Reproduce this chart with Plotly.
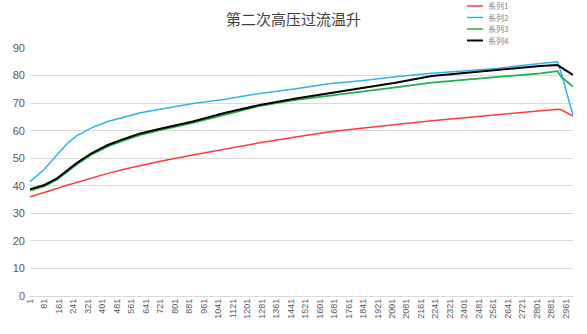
import plotly.graph_objects as go

# sample index (category number) for the read-off points
n_pts = [1, 80, 150, 210, 260, 340, 430, 520, 610, 720, 900, 1080, 1270,
         1470, 1650, 1830, 2020, 2220, 2580, 2820, 2915, 2935, 3000]

s1 = [36.0, 37.5, 39.0, 40.3, 41.3, 42.8, 44.5, 46.0, 47.4, 48.9, 51.2, 53.4, 55.6,
      57.7, 59.5, 60.9, 62.3, 63.6, 65.8, 67.2, 67.8, 67.6, 65.3]
s2 = [41.5, 46.0, 51.3, 55.6, 58.2, 61.0, 63.3, 64.8, 66.5, 67.8, 69.9, 71.4, 73.5,
      75.2, 77.0, 78.1, 79.6, 80.8, 82.6, 84.4, 85.0, 81.0, 65.7]
s3 = [38.2, 39.9, 42.3, 45.2, 47.8, 51.3, 54.3, 56.5, 58.5, 60.2, 62.8, 65.8, 69.0,
      71.2, 72.6, 74.1, 75.7, 77.4, 79.3, 80.8, 81.6, 79.6, 76.0]
s4 = [38.7, 40.3, 42.7, 45.7, 48.3, 51.8, 54.8, 57.0, 59.0, 60.7, 63.3, 66.5, 69.3,
      71.7, 73.5, 75.4, 77.4, 79.8, 82.0, 83.5, 83.8, 83.0, 80.2]

names = ["系列1", "系列2", "系列3", "系列4"]
colors = ["#FF3B3B", "#2EB3EE", "#1FB04E", "#000000"]
widths = [1.5, 1.5, 1.8, 2.0]

x_ticks = list(range(1, 3000, 80))
y_ticks = list(range(0, 91, 10))

W, H = 587, 334
L, R, T, B = 30, 14, 48, 38
pw, ph = W - L - R, H - T - B


def px_x(p):
    return (p - L) / pw


def px_y(p):
    return (H - B - p) / ph


fig = go.Figure()
for name, ys, c, w in zip(names, [s1, s2, s3, s4], colors, widths):
    fig.add_trace(go.Scatter(x=n_pts, y=ys, mode="lines", name=name,
                             line=dict(color=c, width=w), showlegend=False))

# compact legend in the top-right corner
for i, (name, c) in enumerate(zip(names, colors)):
    yy = px_y(6 + i * 11.5)
    fig.add_shape(type="line", xref="paper", yref="paper",
                  x0=px_x(467), x1=px_x(483), y0=yy, y1=yy,
                  line=dict(color=c, width=2 if c == "#000000" else 1.5))
    fig.add_annotation(xref="paper", yref="paper", x=px_x(486), y=yy,
                       text=name, showarrow=False, xanchor="left", yanchor="middle",
                       font=dict(family="Noto Sans CJK SC", size=8, color="#808080"))

fig.update_layout(
    width=W, height=H,
    margin=dict(l=L, r=R, t=T, b=B, autoexpand=False),
    paper_bgcolor="white", plot_bgcolor="white",
    title=dict(text="第二次高压过流温升", x=0.5, xanchor="center",
               y=1 - 20 / H, yanchor="middle", yref="container",
               font=dict(family="Noto Sans CJK SC", size=15, color="#404040")),
    showlegend=False,
)
fig.update_xaxes(range=[0.5, 3000.5], tickvals=x_ticks, ticktext=[str(v) for v in x_ticks],
                 tickangle=-90, showgrid=False, zeroline=False, showline=False,
                 ticks="", tickfont=dict(family="Liberation Sans", size=9, color="#595959"))
fig.update_yaxes(range=[0, 90], tickvals=y_ticks, showgrid=True, gridcolor="#D9D9D9",
                 gridwidth=1, zeroline=True, zerolinecolor="#D9D9D9", zerolinewidth=1,
                 showline=False, ticks="", ticklabelstandoff=4,
                 tickfont=dict(family="Liberation Sans", size=11, color="#595959"))

fig.write_html("out.html")
